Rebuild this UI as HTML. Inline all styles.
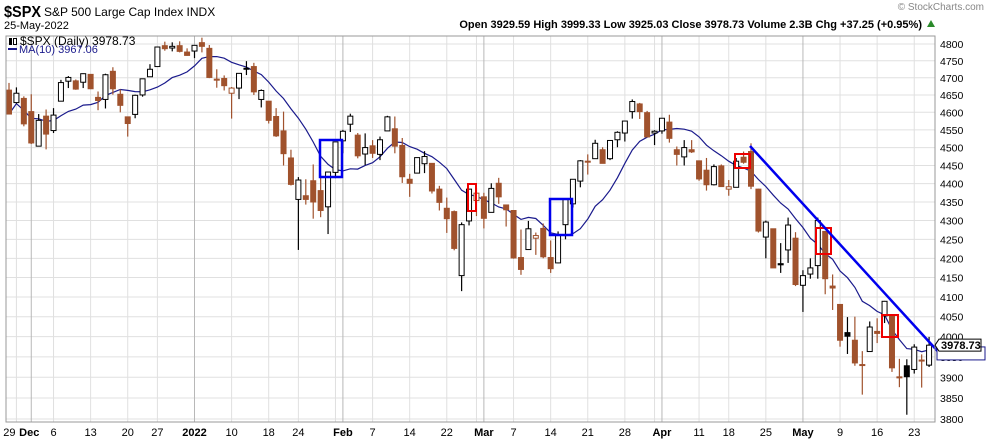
<!DOCTYPE html>
<html><head><meta charset="utf-8">
<style>
body{margin:0;background:#fff;font-family:"Liberation Sans",sans-serif;}
svg text{font-family:"Liberation Sans",sans-serif;}
</style></head>
<body>
<svg id="chart" width="986" height="442" xmlns="http://www.w3.org/2000/svg">
<rect width="986" height="442" fill="#fff"/>
<g id="header">
<text x="4" y="17" font-size="16" font-weight="bold" textLength="37" lengthAdjust="spacingAndGlyphs">$SPX</text>
<text x="44" y="16" font-size="12">S&amp;P 500 Large Cap Index  INDX</text>
<text x="4" y="29" font-size="11">25-May-2022</text>
<text x="984" y="10" font-size="10" fill="#888" text-anchor="end">© StockCharts.com</text>
<text x="922" y="28" font-size="11" font-weight="bold" text-anchor="end">Open 3929.59  High 3999.33  Low 3925.03  Close 3978.73  Volume 2.3B  Chg +37.25 (+0.95%)</text>
<path d="M927,27 L931,20 L935,27 Z" fill="#2a8a2a"/>
</g>
<g id="grid"></g>
<g id="ma"></g>
<g id="candles"></g>
<g id="annot">
<rect x="320" y="140" width="22" height="37" fill="none" stroke="#0000ee" stroke-width="2.5"/>
<rect x="550" y="199" width="22" height="36" fill="none" stroke="#0000ee" stroke-width="2.5"/>
<rect x="468" y="184" width="8" height="27" fill="none" stroke="#ee0000" stroke-width="2"/>
<rect x="735" y="154" width="15" height="14" fill="none" stroke="#ee0000" stroke-width="2"/>
<rect x="816" y="228" width="15" height="26" fill="none" stroke="#ee0000" stroke-width="2"/>
<rect x="882" y="315" width="16" height="22" fill="none" stroke="#ee0000" stroke-width="2"/>
<line x1="750" y1="146" x2="943" y2="357" stroke="#0000ee" stroke-width="2.5"/>
</g>
<rect x="6" y="36" width="929" height="386" fill="none" stroke="#999"/>
<g id="legend">
<rect x="9" y="38" width="3" height="7" fill="#000"/>
<rect x="13.5" y="38.5" width="3" height="6" fill="#fff" stroke="#000"/>
<text x="20" y="45" font-size="12">$SPX (Daily) 3978.73</text>
<line x1="8" y1="49" x2="17" y2="49" stroke="#1a1a8c" stroke-width="2"/>
<text x="19" y="53" font-size="11" fill="#1a1a8c">MA(10) 3967.06</text>
</g>
<g id="yaxis"></g>
<g id="xaxis"></g>
</svg>
<script>
const NS="http://www.w3.org/2000/svg";
const opens=[4664,4628,4640,4602,4504,4589,4548,4632,4690,4691,4687,4710,4643,4637,4719,4652,4587,4594,4650,4703,4733,4795,4788,4795,4776,
4779,4804,4787,4693,4698,4655,4670,4728,4733,4637,4632,4588,4547,4471,4357,4367,4408,4381,4337,4431,
4519,4566,4535,4482,4505,4481,4547,4553,4506,4412,4429,4455,4456,4385,4333,4324,4155,4299,4354,
4364,4322,4401,4342,4327,4202,4223,4253,4279,4202,4188,4289,4345,4407,4462,4469,4494,4469,4522,4541,4602,4624,4599,
4541,4547,4572,4494,4474,4494,4463,4437,4397,4449,4385,4390,4473,4489,4385,4256,4278,4186,4222,4253,
4130,4159,4181,4271,4128,4081,4010,3991,3931,3963,4013,4052,4052,3900,3928,3919,3942,3929.59];
const highs=[4685,4672,4646,4652,4595,4608,4612,4694,4705,4695,4713,4710,4660,4712,4731,4666,4588,4651,4697,4740,4791,4807,4805,4808,4787,
4796,4819,4797,4725,4707,4673,4714,4749,4744,4666,4632,4612,4602,4494,4418,4412,4453,4428,4432,4516,
4550,4596,4541,4540,4521,4531,4590,4588,4527,4427,4472,4490,4456,4394,4362,4327,4295,4385,4388,
4375,4401,4416,4342,4327,4276,4299,4268,4292,4247,4271,4358,4412,4465,4481,4522,4501,4520,4546,4575,4637,4627,4604,
4549,4583,4593,4503,4521,4521,4464,4471,4453,4453,4410,4471,4489,4512,4386,4300,4278,4240,4308,4269,
4169,4200,4308,4271,4158,4082,4049,4050,3964,4038,4046,4090,4052,3945,3944,3981,3956,3999.33];
const lows=[4594,4625,4560,4510,4504,4495,4541,4632,4670,4665,4670,4667,4606,4611,4651,4600,4531,4583,4645,4703,4733,4780,4778,4775,4765,
4758,4775,4699,4671,4663,4582,4638,4708,4650,4614,4568,4530,4450,4395,4222,4343,4305,4309,4264,4415,
4484,4544,4470,4451,4471,4465,4547,4484,4402,4364,4429,4429,4373,4327,4267,4221,4115,4287,4312,
4279,4322,4345,4284,4199,4157,4223,4209,4200,4162,4187,4250,4335,4390,4425,4469,4456,4465,4501,4517,4582,4581,4530,
4507,4539,4514,4450,4450,4485,4408,4381,4395,4392,4367,4390,4455,4385,4268,4200,4175,4162,4188,4128,
4062,4147,4147,4107,4067,3975,3957,3928,3858,3963,3984,4034,3913,3876,3810,3909,3875,3925.03];
const closes=[4595,4655,4567,4513,4577,4538,4592,4686,4701,4667,4712,4668,4634,4709,4668,4620,4568,4649,4697,4725,4791,4786,4793,4778,4766,
4796,4793,4701,4696,4677,4670,4713,4726,4659,4663,4577,4533,4483,4398,4410,4357,4350,4327,4432,4516,
4546,4589,4477,4500,4484,4522,4587,4504,4419,4401,4472,4475,4380,4349,4305,4226,4289,4385,4374,
4306,4387,4364,4329,4201,4171,4278,4260,4204,4173,4262,4358,4412,4463,4461,4512,4456,4520,4543,4575,4631,4602,4530,
4546,4583,4526,4481,4500,4488,4413,4397,4447,4392,4391.5,4462,4459,4393,4272,4296,4175,4183,4288,4132,
4155,4175,4300,4147,4123,3991,4001,3935,3930,4024,4008,4089,3923,3901,3901.4,3974,3941,3978.73];
const monthLabels=["Dec","2022","Feb","Mar","Apr","May"];
const yTicks=[3800,3850,3900,3950,4000,4050,4100,4150,4200,4250,4300,4350,4400,4450,4500,4550,4600,4650,4700,4750,4800];
const weekIdx=[1,3,6,11,16,20,25,30,35,39,44,45,49,54,59,63,64,68,73,78,83,87,88,93,97,102,107,112,117,122];
const weekLbl=["29","Dec","6","13","20","27","2022","10","18","24","31","Feb","7","14","22","28","Mar","7","14","21","28","31","Apr","11","18","25","May","9","16","23"];
const monthStart=[3,25,45,64,88,107];

const X0=9,DX=7.42,Y0=44,K=1605;
const x=i=>X0+i*DX;
const y=p=>Y0+K*Math.log(4800/p);
function mk(t,a,parent){const e=document.createElementNS(NS,t);for(const k in a)e.setAttribute(k,a[k]);parent.appendChild(e);return e;}
const grid=document.getElementById('grid'),cg=document.getElementById('candles'),ya=document.getElementById('yaxis'),xa=document.getElementById('xaxis'),mag=document.getElementById('ma');
yTicks.forEach(t=>{
  const l=mk('line',{x1:6,x2:935,y1:y(t),y2:y(t),stroke:'#e0e0e0'},grid);
  
  
  const tx=mk('text',{x:940,y:y(t)+4,'font-size':10.5},ya);tx.textContent=t;
  
  
});
weekIdx.forEach((w,k)=>{
  const isM=monthStart.includes(w);
  const lbl=weekLbl[k];
  const l=mk('line',{x1:x(w),x2:x(w),y1:36,y2:422,stroke:isM?'#b8b8b8':'#e0e0e0'},grid);
  
  
  if((lbl==="31"&&w===44)||(lbl==="28"&&w===63)||(lbl==="31"&&w===87))return;
  let lx=x(w);
  if(lbl==="29")lx-=7;
  if(lbl==="Dec")lx-=2;
  const tx=mk('text',{x:lx,y:436,'font-size':11,'text-anchor':'middle','font-weight':monthLabels.includes(lbl)?'bold':'normal'},xa);
  tx.textContent=lbl;
  
  
});
let pts=[];
for(let i=0;i<closes.length;i++){const s=closes.slice(Math.max(0,i-9),i+1);const m=s.reduce((a,b)=>a+b,0)/s.length;pts.push(x(i).toFixed(1)+','+y(m).toFixed(1));}
const ml=mk('polyline',{points:pts.join(' '),fill:'none',stroke:'#1a1a8c','stroke-width':1.2},mag);


const BR='#a0522d';
for(let i=0;i<closes.length;i++){
  const o=opens[i],c=closes[i],h=highs[i],lo=lows[i];
  const prev=i>0?closes[i-1]:o;
  const col=c>=prev?'#000':BR;
  const hollow=c>=o;
  const w=mk('line',{x1:x(i),x2:x(i),y1:y(h),y2:y(lo),stroke:col,'stroke-width':1.2},cg);
  
  
  const top=y(Math.max(o,c)),bot=y(Math.min(o,c));
  const b=mk('rect',{x:x(i)-2.5,y:top,width:5,height:Math.max(1,bot-top),fill:hollow?'#fff':col,stroke:col,'stroke-width':1},cg);
  
  
}
const tg=mk('g',{},ya);


const r2=mk('rect',{x:937,y:y(3967)-3,width:48,height:13,fill:'#fff',stroke:'#1a1a8c'},tg);


const r1=mk('path',{d:`M935,${y(3978.73)} l4,-6 h42 v12 h-42 z`,fill:'#fff',stroke:'#000'},tg);


const t1=mk('text',{x:941,y:y(3978.73)+4,'font-size':11,'font-weight':'bold'},tg);t1.textContent='3978.73';


</script>
</body></html>
